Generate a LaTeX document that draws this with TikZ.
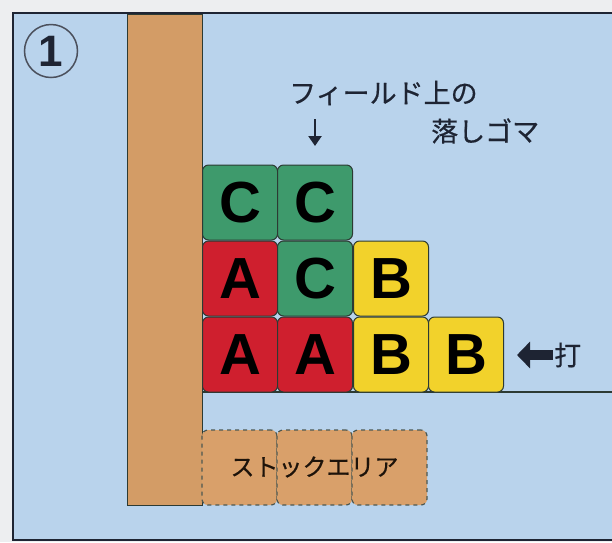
\documentclass[tikz,border=0pt]{standalone}
\usepackage{fontspec}
\setmainfont{Liberation Sans}
\newfontfamily\jpfont[FakeBold=0.5]{Noto Sans CJK JP}
\usetikzlibrary{arrows.meta}
\definecolor{outgrey}{HTML}{EDEEF0}
\definecolor{fieldblue}{HTML}{B9D3EC}
\definecolor{wallbrown}{HTML}{D39C66}
\definecolor{stockbrown}{HTML}{D9A06A}
\definecolor{pgreen}{HTML}{3E9A6C}
\definecolor{pred}{HTML}{CF1F2E}
\definecolor{pyellow}{HTML}{F2D22B}
\definecolor{inkdark}{HTML}{1E2433}
\definecolor{edgedark}{HTML}{2C3A33}
\tikzset{
  blk/.style={draw=edgedark, line width=1pt, rounded corners=6pt,
    minimum width=75pt, minimum height=75pt, inner sep=0pt,
    font=\fontsize{58}{58}\selectfont\bfseries, text=black},
  gblk/.style={blk, fill=pgreen},
  rblk/.style={blk, fill=pred},
  yblk/.style={blk, fill=pyellow},
  stockcell/.style={draw=edgedark!85, dash pattern=on 4pt off 4pt, line width=1.2pt, rounded corners=6pt,
    fill=stockbrown, minimum width=75pt, minimum height=75pt, inner sep=0pt},
  jptext/.style={font=\jpfont\fontsize{27}{27}\selectfont, text=inkdark, inner sep=0pt}
}
\begin{document}
\begin{tikzpicture}[x=1pt,y=-1pt]
\useasboundingbox (0,0) rectangle (612,542);
\fill[outgrey] (0,0) rectangle (612,542);
% frame
\filldraw[fill=fieldblue, draw=inkdark, line width=2.2pt] (13,13) rectangle (650,540);
% wall column
\filldraw[fill=wallbrown, draw=edgedark, line width=1pt] (127,14) rectangle (202,505);
% field bottom line
\coordinate (fl) at (202,392);
\coordinate (fr) at (615,392);
\draw[edgedark, line width=1.2pt] (fl) -- (fr);
% stock area
\node[stockcell] (s1) at (239.5,467.5) {};
\node[stockcell] (s2) at (314.5,467.5) {};
\node[stockcell] (s3) at (389.5,467.5) {};
\node[jptext, font=\jpfont\fontsize{24}{24}\selectfont, text=black!85!brown] (stock) at (314.5,467) {ストックエリア};
% blocks
\node[gblk] (c11) at (240,202.5) {C};
\node[gblk] (c12) at (315,202.5) {C};
\node[rblk] (a21) at (240,278.5) {A};
\node[gblk] (c22) at (315,278.5) {C};
\node[yblk] (b23) at (391,278.5) {B};
\node[rblk] (a31) at (240,354.5) {A};
\node[rblk] (a32) at (315,354.5) {A};
\node[yblk] (b33) at (391,354.5) {B};
\node[yblk] (b34) at (466,354.5) {B};
% circled number
\node[circle, draw=inkdark!80, line width=1.5pt, minimum size=53pt, inner sep=0pt,
  font=\fontsize{44}{44}\selectfont\bfseries, text=inkdark] (num) at (51,51) {1};
% labels
\node[jptext, anchor=west] (lab1) at (289,93) {フィールド上の};
\node[jptext, anchor=west] (lab2) at (431,131) {落しゴマ};
\coordinate (dtop) at (315,119);
\coordinate (dbot) at (315,146);
\draw[inkdark, line width=2.4pt, -{Triangle[length=10pt,width=13pt]}] (dtop) -- (dbot);
\coordinate (hitstart) at (553,355);
\coordinate (hitend) at (517,355);
\draw[inkdark, line width=10pt, -{Triangle[length=13pt,width=26pt]}] (hitstart) -- (hitend);
\node[jptext, anchor=west] (hit) at (554,355) {打};
\end{tikzpicture}
\end{document}
